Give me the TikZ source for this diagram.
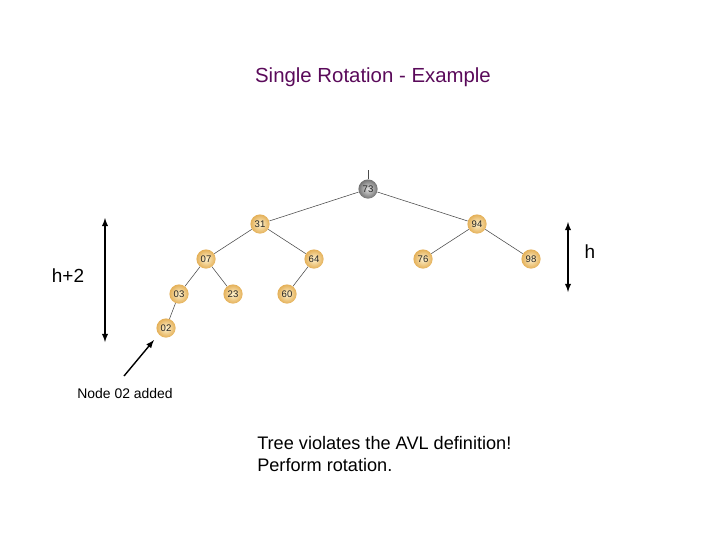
\documentclass[tikz,border=0pt]{standalone}
\usepackage{fontspec}
\setmainfont{Liberation Sans}
\usepackage{tikz}
\definecolor{titlepurple}{RGB}{90,10,90}
\definecolor{goldin}{RGB}{255,242,205}
\definecolor{goldout}{RGB}{228,176,88}
\tikzset{
  key/.style={circle, inner sep=0pt, minimum size=0.48cm, inner color=goldin, outer color=goldout, text=black!85, font=\fontsize{6.8}{7}\selectfont},
  rootkey/.style={key, inner color=black!12, outer color=black!55},
  edge/.style={draw=black!70, line width=0.4pt}
}

\begin{document}
\begin{tikzpicture}[x=0.025cm, y=-0.025cm, >=latex]
  \useasboundingbox (0, 0) rectangle (720, 540);
  \node[text=titlepurple, font=\fontsize{14.5}{17}\selectfont] (title) at (373, 77) {Single Rotation - Example};

  % the tree
  \node[rootkey] (k73) at (368, 189) {73};
  \node[key] (k31) at (260, 224) {31};
  \node[key] (k94) at (477, 224) {94};
  \node[key] (k07) at (206, 259) {07};
  \node[key] (k64) at (314, 259) {64};
  \node[key] (k76) at (423, 259) {76};
  \node[key] (k98) at (531, 259) {98};
  \node[key] (k03) at (179, 294) {03};
  \node[key] (k23) at (233, 294) {23};
  \node[key] (k60) at (287, 294) {60};
  \node[key] (k02) at (166, 328) {02};
  \coordinate (top) at (368, 170);
  \draw[edge] (top) -- (k73);
  \draw[edge] (k73) -- (k31);
  \draw[edge] (k73) -- (k94);
  \draw[edge] (k31) -- (k07);
  \draw[edge] (k31) -- (k64);
  \draw[edge] (k94) -- (k76);
  \draw[edge] (k94) -- (k98);
  \draw[edge] (k07) -- (k03);
  \draw[edge] (k07) -- (k23);
  \draw[edge] (k64) -- (k60);
  \draw[edge] (k03) -- (k02);

  % heights
  \coordinate (lefttop) at (105, 218);
  \coordinate (leftbot) at (105, 342);
  \draw[<->, line width=1pt] (lefttop) -- (leftbot);
  \node[font=\fontsize{13.5}{15}\selectfont] (hleft) at (68, 276) {h+2};
  \coordinate (righttop) at (568, 222);
  \coordinate (rightbot) at (568, 292);
  \draw[<->, line width=1pt] (righttop) -- (rightbot);
  \node[font=\fontsize{13.5}{15}\selectfont] (hright) at (590, 252) {h};

  \node[font=\fontsize{9.9}{11}\selectfont] (added) at (125, 394) {Node 02 added};
  \coordinate (tail) at (124, 376);
  \coordinate (tip) at (154, 340);
  \draw[->, line width=1pt] (tail) -- (tip);

  \node[anchor=north west, align=left, inner sep=0pt, font=\fontsize{12.9}{15.6}\selectfont] (note) at (257, 436) {Tree violates the AVL definition!\\Perform rotation.};
\end{tikzpicture}
\end{document}
